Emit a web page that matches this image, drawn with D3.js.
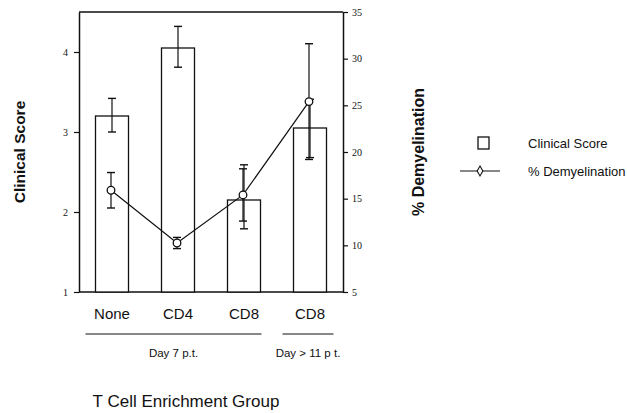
<!DOCTYPE html>
<meta charset="utf-8">
<style>
  body { margin: 0; background: white; }
  svg { display: block; }
  .sans { font-family: "Liberation Sans", Arial, sans-serif; fill: #111; }
</style>
<body>
<div id="chart"></div>
<script src="https://cdn.jsdelivr.net/npm/d3@7"></script>
<script>
  // values
  var groups = ["None", "CD4", "CD8", "CD8 late"];
  var groupLabels = ["None", "CD4", "CD8", "CD8"];
  var clinical = [3.2, 4.05, 2.15, 3.05];
  var clinicalErrLo = [0.2, 0.24, 0.36, 0.37];
  var clinicalErrHi = [0.22, 0.27, 0.44, 0.36];
  var demyel = [15.9, 10.25, 15.4, 25.4];
  var demyelErr = [1.9, 0.6, 2.8, 6.2];
  var leftTicks = [1, 2, 3, 4];
  var rightTicks = [5, 10, 15, 20, 25, 30, 35];
  var periods = [
    { label: "Day 7 p.t.", from: 0, to: 2 },
    { label: "Day > 11 p t.", from: 3, to: 3 }
  ];

  var width = 627, height = 413;
  var margin = { top: 12, right: 284, bottom: 121, left: 79 };
  var plotW = width - margin.left - margin.right,
    plotH = height - margin.top - margin.bottom;

  var svg = d3.select("#chart").append("svg")
    .attr("width", width)
    .attr("height", height);

  var g = svg.append("g")
    .attr("transform", "translate(" + margin.left + "," + margin.top + ")");

  var x = d3.scaleBand().domain(groups).range([0, plotW])
    .paddingInner(0.5).paddingOuter(0.25);
  var yL = d3.scaleLinear().domain([1, 4.5]).range([plotH, 0]);
  var yR = d3.scaleLinear().domain([5, 35]).range([plotH, 0]);

  // frame top and bottom
  g.append("line")
    .attr("x1", 0).attr("x2", plotW).attr("y1", 0).attr("y2", 0)
    .attr("stroke", "#111").attr("stroke-width", 1.3);
  g.append("line")
    .attr("x1", 0).attr("x2", plotW).attr("y1", plotH).attr("y2", plotH)
    .attr("stroke", "#111").attr("stroke-width", 1.5);

  // bars
  g.selectAll(".bar")
    .data(groups)
    .enter().append("rect")
    .attr("class", "bar")
    .attr("x", d => x(d))
    .attr("width", x.bandwidth())
    .attr("y", (d, i) => yL(clinical[i]))
    .attr("height", (d, i) => plotH - yL(clinical[i]))
    .attr("fill", "white")
    .attr("stroke", "#111")
    .attr("stroke-width", 1.3);

  var cap = 4;
  function errBar(sel, cx, y1, y2) {
    sel.append("line").attr("x1", cx).attr("x2", cx).attr("y1", y1).attr("y2", y2)
      .attr("stroke", "#111").attr("stroke-width", 1.2);
    [y1, y2].forEach(function (yy) {
      sel.append("line").attr("x1", cx - cap).attr("x2", cx + cap).attr("y1", yy).attr("y2", yy)
        .attr("stroke", "#111").attr("stroke-width", 1.4);
    });
  }

  groups.forEach(function (d, i) {
    var cx = x(d) + x.bandwidth() / 2;
    errBar(g, cx, yL(clinical[i] + clinicalErrHi[i]), yL(clinical[i] - clinicalErrLo[i]));
    errBar(g, cx - 1, yR(demyel[i] + demyelErr[i]), yR(demyel[i] - demyelErr[i]));
  });

  // demyelination line
  var line = d3.line()
    .x((d, i) => x(groups[i]) + x.bandwidth() / 2 - 1)
    .y(d => yR(d));
  g.append("path")
    .datum(demyel)
    .attr("d", line)
    .attr("fill", "none")
    .attr("stroke", "#111")
    .attr("stroke-width", 1.2);
  g.selectAll(".pt")
    .data(demyel)
    .enter().append("circle")
    .attr("class", "pt")
    .attr("cx", (d, i) => x(groups[i]) + x.bandwidth() / 2 - 1)
    .attr("cy", d => yR(d))
    .attr("r", 3.8)
    .attr("fill", "white")
    .attr("stroke", "#111")
    .attr("stroke-width", 1.3);

  // axes
  var left = g.append("g")
    .call(d3.axisLeft(yL).tickValues(leftTicks).tickFormat(d3.format("d"))
      .tickSize(5).tickSizeOuter(0).tickPadding(6));
  var right = g.append("g")
    .attr("transform", "translate(" + plotW + ",0)")
    .call(d3.axisRight(yR).tickValues(rightTicks).tickFormat(d3.format("d"))
      .tickSize(5).tickSizeOuter(0).tickPadding(4));
  [left, right].forEach(function (a) {
    a.attr("font-family", "'Liberation Serif', 'Times New Roman', serif").attr("font-size", 10);
    a.select(".domain").attr("stroke", "#111").attr("stroke-width", 1.5);
    a.selectAll(".tick line").attr("stroke", "#111").attr("stroke-width", 1.2);
    a.selectAll(".tick text").attr("fill", "#111");
  });

  // category labels
  g.selectAll(".cat")
    .data(groups)
    .enter().append("text")
    .attr("class", "sans")
    .attr("x", d => x(d) + x.bandwidth() / 2)
    .attr("y", plotH + 27)
    .attr("text-anchor", "middle")
    .style("font-size", "15px")
    .text((d, i) => groupLabels[i]);

  // period brackets
  periods.forEach(function (p) {
    var x1 = x(groups[p.from]) - 10, x2 = x(groups[p.to]) + x.bandwidth() + 1;
    if (p.from === p.to) { x1 = x(groups[p.from]) - 11; x2 = x(groups[p.to]) + x.bandwidth() + 7; }
    g.append("line")
      .attr("x1", x1).attr("x2", x2)
      .attr("y1", plotH + 42).attr("y2", plotH + 42)
      .attr("stroke", "#111").attr("stroke-width", 1.2);
    g.append("text")
      .attr("class", "sans")
      .attr("x", (x1 + x2) / 2)
      .attr("y", plotH + 65)
      .attr("text-anchor", "middle")
      .style("font-size", "11.5px")
      .text(p.label);
  });

  // axis titles
  svg.append("text")
    .attr("class", "sans")
    .attr("transform", "translate(25," + (margin.top + plotH / 2) + ") rotate(-90)")
    .attr("text-anchor", "middle")
    .style("font-size", "15.5px")
    .style("font-weight", "bold")
    .text("Clinical Score");

  svg.append("text")
    .attr("class", "sans")
    .attr("transform", "translate(424," + (margin.top + plotH / 2) + ") rotate(-90)")
    .attr("text-anchor", "middle")
    .style("font-size", "16px")
    .style("font-weight", "bold")
    .text("% Demyelination");

  svg.append("text")
    .attr("class", "sans")
    .attr("x", 186)
    .attr("y", 407)
    .attr("text-anchor", "middle")
    .style("font-size", "17px")
    .text("T Cell Enrichment Group");

  // legend
  var lg = svg.append("g").attr("transform", "translate(460,0)");
  lg.append("rect")
    .attr("x", 18).attr("y", 137).attr("width", 11).attr("height", 12)
    .attr("fill", "white").attr("stroke", "#111").attr("stroke-width", 1.3);
  lg.append("text").attr("class", "sans")
    .attr("x", 68).attr("y", 148).style("font-size", "13px").text("Clinical Score");
  lg.append("line")
    .attr("x1", 0).attr("x2", 40).attr("y1", 171).attr("y2", 171)
    .attr("stroke", "#111").attr("stroke-width", 1.2);
  lg.append("path")
    .attr("d", d3.symbol().type(d3.symbolDiamond).size(28)())
    .attr("transform", "translate(20,171)")
    .attr("fill", "white").attr("stroke", "#111").attr("stroke-width", 1.1);
  lg.append("text").attr("class", "sans")
    .attr("x", 68).attr("y", 176).style("font-size", "13px").text("% Demyelination");
</script>
</body>
